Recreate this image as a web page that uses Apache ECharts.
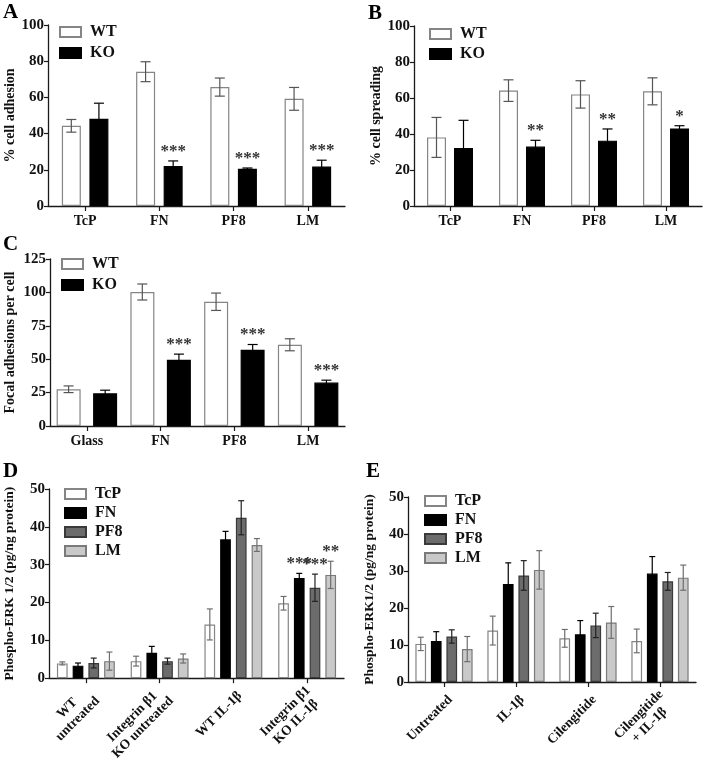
<!DOCTYPE html>
<html>
<head>
<meta charset="utf-8">
<script src="https://cdn.jsdelivr.net/npm/echarts@6/dist/echarts.min.js"></script>
<style>
  html, body { margin: 0; padding: 0; background: #fff; }
  #chart { width: 710px; height: 763px; }
</style>
</head>
<body>
<div id="chart"></div>
<script>
// panel A - % cell adhesion
var catsA = ['TcP', 'FN', 'PF8', 'LM'];
var adhWT = [44.3, 74.2, 65.7, 59.2];
var adhWTerr = [3.5, 5.5, 5.0, 6.3];
var adhKO = [48.2, 22.1, 20.6, 21.8];
var adhKOerr = [8.6, 2.8, 0.4, 3.5];
var adhSig = ['', '***', '***', '***'];

// panel B - % cell spreading
var catsB = ['TcP', 'FN', 'PF8', 'LM'];
var sprWT = [38.1, 64.1, 62.0, 63.7];
var sprWTerr = [11.1, 6.0, 7.6, 7.5];
var sprKO = [32.2, 33.0, 36.3, 43.1];
var sprKOerr = [15.4, 3.5, 6.5, 1.5];
var sprSig = ['', '**', '**', '*'];

// panel C - focal adhesions per cell
var catsC = ['Glass', 'FN', 'PF8', 'LM'];
var faWT = [27.5, 100.3, 93.0, 60.8];
var faWTerr = [2.5, 6.0, 6.5, 4.5];
var faKO = [24.5, 49.5, 57.0, 32.5];
var faKOerr = [2.3, 4.3, 4.0, 1.8];
var faSig = ['', '***', '***', '***'];

// panel D - phospho-ERK, WT vs integrin b1 KO
var catsD = ['WT\nuntreated', 'Integrin β1\nKO untreated', 'WT IL-1β', 'Integrin β1\nKO IL-1β'];
var dTcP = [3.9, 4.5, 14.2, 19.8];
var dTcPerr = [0.4, 1.3, 4.1, 1.8];
var dFN = [3.3, 6.7, 36.7, 26.5];
var dFNerr = [0.7, 1.7, 2.1, 1.2];
var dPF8 = [4.0, 4.5, 42.4, 23.9];
var dPF8err = [1.3, 0.8, 4.5, 3.6];
var dLM = [4.5, 5.2, 35.2, 27.3];
var dLMerr = [2.4, 1.2, 1.7, 3.6];
var dFNsig = ['', '', '', '***'];
var dPF8sig = ['', '', '', '***'];
var dLMsig = ['', '', '', '**'];

// panel E - phospho-ERK with cilengitide
var catsE = ['Untreated', 'IL-1β', 'Cilengitide', 'Cilengitide\n+ IL-1β'];
var eTcP = [10.3, 13.9, 11.8, 11.1];
var eTcPerr = [1.8, 3.9, 2.4, 3.2];
var eFN = [11.1, 26.5, 12.9, 29.3];
var eFNerr = [2.5, 5.7, 3.7, 4.6];
var ePF8 = [12.3, 28.8, 15.3, 27.2];
var ePF8err = [1.8, 4.0, 3.3, 2.4];
var eLM = [8.9, 30.3, 16.1, 28.2];
var eLMerr = [3.4, 5.2, 4.3, 3.4];

var FONT = "'Liberation Serif', 'Times New Roman', serif";
var AXIS = '#1a1a1a';

var styles = {
  WT:  { color: '#ffffff', borderColor: '#858585', err: '#555555' },
  KO:  { color: '#000000', borderColor: '#000000', err: '#000000' },
  TcP: { color: '#ffffff', borderColor: '#858585', err: '#6e6e6e' },
  FN:  { color: '#000000', borderColor: '#000000', err: '#000000' },
  PF8: { color: '#6c6c6c', borderColor: '#3a3a3a', err: '#222222' },
  LM:  { color: '#c9c9c9', borderColor: '#7a7a7a', err: '#6e6e6e' }
};

function barSeries(name, idx, data, bw, gap) {
  var s = styles[name];
  return {
    type: 'bar', name: name, xAxisIndex: idx, yAxisIndex: idx,
    data: data, barWidth: bw, barGap: gap,
    itemStyle: { color: s.color, borderColor: s.borderColor, borderWidth: 1.2 },
    emphasis: { disabled: true },
    z: 2
  };
}

// error bars (+ significance stars) drawn with a custom series
function errSeries(name, idx, data, errs, sig, offset, capW) {
  var col = styles[name].err;
  var rows = data.map(function (v, i) { return [i, v, errs[i]]; });
  return {
    type: 'custom', name: 'err-' + name + idx, xAxisIndex: idx, yAxisIndex: idx,
    data: rows, encode: { x: 0, y: 1 }, z: 5, silent: true,
    renderItem: function (params, api) {
      var i = api.value(0), v = api.value(1), e = api.value(2);
      var top = api.coord([i, v + e]);
      var bot = api.coord([i, v - e]);
      var x = top[0] + offset;
      var ls = { stroke: col, lineWidth: 1.2 };
      var kids = [
        { type: 'line', shape: { x1: x, y1: top[1], x2: x, y2: bot[1] }, style: ls },
        { type: 'line', shape: { x1: x - capW / 2, y1: top[1], x2: x + capW / 2, y2: top[1] }, style: ls },
        { type: 'line', shape: { x1: x - capW / 2, y1: bot[1], x2: x + capW / 2, y2: bot[1] }, style: ls }
      ];
      if (sig && sig[i]) {
        kids.push({
          type: 'text',
          style: {
            text: sig[i], x: x, y: top[1] - 1, align: 'center', verticalAlign: 'bottom',
            font: 'bold 17px ' + FONT, fill: '#333'
          }
        });
      }
      return { type: 'group', children: kids };
    }
  };
}

function xAx(idx, cats, rotated) {
  var ax = {
    type: 'category', gridIndex: idx, data: cats,
    axisLine: { lineStyle: { color: AXIS, width: 1.3 } },
    axisTick: { show: true, alignWithLabel: true, length: 5, lineStyle: { color: AXIS, width: 1.2 } },
    axisLabel: {
      interval: 0, margin: 8, color: '#111', fontFamily: FONT, fontWeight: 'bold', fontSize: 14
    }
  };
  if (rotated) {
    // two-line labels, lines centred on each other
    ax.axisLabel = {
      interval: 0, rotate: 45, margin: 22, padding: [0, -9, 0, 0], color: '#111',
      formatter: function (v) {
        return v.split('\n').map(function (s) { return '{c|' + s + '}'; }).join('\n');
      },
      rich: { c: { align: 'center', color: '#111', fontFamily: FONT, fontWeight: 'bold', fontSize: 13.5, lineHeight: 15 } }
    };
  }
  return ax;
}

function yAx(idx, max, step, name, gap, nameSize) {
  return {
    type: 'value', gridIndex: idx, min: 0, max: max, interval: step,
    name: name, nameLocation: 'middle', nameGap: gap,
    nameTextStyle: { color: '#111', fontFamily: FONT, fontWeight: 'bold', fontSize: nameSize },
    axisLine: { show: true, lineStyle: { color: AXIS, width: 1.3 } },
    axisTick: { show: true, length: 4, lineStyle: { color: AXIS, width: 1.2 } },
    axisLabel: { margin: 4, color: '#111', fontFamily: FONT, fontWeight: 'bold', fontSize: 15 },
    splitLine: { show: false }
  };
}

function legend(names, left, top, gap) {
  return {
    data: names, orient: 'vertical', left: left, top: top, padding: 0,
    icon: 'rect', itemWidth: 21, itemHeight: 10, itemGap: gap, selectedMode: false,
    textStyle: { color: '#111', fontFamily: FONT, fontWeight: 'bold', fontSize: 16, lineHeight: 18, padding: [0, 0, 0, 4] }
  };
}

function letter(t, left, top) {
  return { text: t, left: left, top: top, padding: 0,
    textStyle: { color: '#000', fontFamily: FONT, fontWeight: 'bold', fontSize: 21 } };
}

var chart = echarts.init(document.getElementById('chart'), null, { renderer: 'canvas' });

var o2 = 13.8;  // offset of 2-bar groups (A, B)
var oC = 18.3;
var s4 = 15.7;  // step in 4-bar groups (D, E)

var option = {
  backgroundColor: '#fff',
  animation: false,
  title: [letter('A', 3, 2), letter('B', 368, 3), letter('C', 3, 234), letter('D', 3, 461), letter('E', 366, 461)],
  legend: [
    legend(['WT', 'KO'], 59, 23, 3),
    legend(['WT', 'KO'], 429, 25, 2),
    legend(['WT', 'KO'], 61, 255, 3),
    legend(['TcP', 'FN', 'PF8', 'LM'], 64, 485, 1),
    legend(['TcP', 'FN', 'PF8', 'LM'], 424, 492, 1)
  ],
  grid: [
    { left: 48, top: 25, width: 297, height: 181 },
    { left: 414, top: 26, width: 288, height: 180 },
    { left: 50, top: 259, width: 295, height: 167 },
    { left: 49, top: 489, width: 295, height: 194 },
    { left: 408, top: 497, width: 288, height: 185 }
  ],
  xAxis: [xAx(0, catsA), xAx(1, catsB), xAx(2, catsC), xAx(3, catsD, true), xAx(4, catsE, true)],
  yAxis: [
    yAx(0, 100, 20, '% cell adhesion', 30, 14),
    yAx(1, 100, 20, '% cell spreading', 31, 14),
    yAx(2, 125, 25, 'Focal adhesions per cell', 33, 14),
    yAx(3, 50, 10, 'Phospho-ERK 1/2 (pg/ng protein)', 32, 13.5),
    yAx(4, 50, 10, 'Phospho-ERK1/2 (pg/ng protein)', 31, 13.5)
  ],
  series: [
    barSeries('WT', 0, adhWT, 19, '45%'),
    barSeries('KO', 0, adhKO, 19, '45%'),
    errSeries('WT', 0, adhWT, adhWTerr, null, -o2, 10),
    errSeries('KO', 0, adhKO, adhKOerr, adhSig, o2, 10),

    barSeries('WT', 1, sprWT, 19, '42%'),
    barSeries('KO', 1, sprKO, 19, '42%'),
    errSeries('WT', 1, sprWT, sprWTerr, null, -13.5, 10),
    errSeries('KO', 1, sprKO, sprKOerr, sprSig, 13.5, 10),

    barSeries('WT', 2, faWT, 24, '52%'),
    barSeries('KO', 2, faKO, 24, '52%'),
    errSeries('WT', 2, faWT, faWTerr, null, -oC, 10),
    errSeries('KO', 2, faKO, faKOerr, faSig, oC, 10),

    barSeries('TcP', 3, dTcP, 10.7, '47%'),
    barSeries('FN', 3, dFN, 10.7, '47%'),
    barSeries('PF8', 3, dPF8, 10.7, '47%'),
    barSeries('LM', 3, dLM, 10.7, '47%'),
    errSeries('TcP', 3, dTcP, dTcPerr, null, -1.5 * s4, 6),
    errSeries('FN', 3, dFN, dFNerr, dFNsig, -0.5 * s4, 6),
    errSeries('PF8', 3, dPF8, dPF8err, dPF8sig, 0.5 * s4, 6),
    errSeries('LM', 3, dLM, dLMerr, dLMsig, 1.5 * s4, 6),

    barSeries('TcP', 4, eTcP, 10.7, '45%'),
    barSeries('FN', 4, eFN, 10.7, '45%'),
    barSeries('PF8', 4, ePF8, 10.7, '45%'),
    barSeries('LM', 4, eLM, 10.7, '45%'),
    errSeries('TcP', 4, eTcP, eTcPerr, null, -1.5 * 15.5, 6),
    errSeries('FN', 4, eFN, eFNerr, null, -0.5 * 15.5, 6),
    errSeries('PF8', 4, ePF8, ePF8err, null, 0.5 * 15.5, 6),
    errSeries('LM', 4, eLM, eLMerr, null, 1.5 * 15.5, 6)
  ]
};

chart.setOption(option);
</script>
</body>
</html>
